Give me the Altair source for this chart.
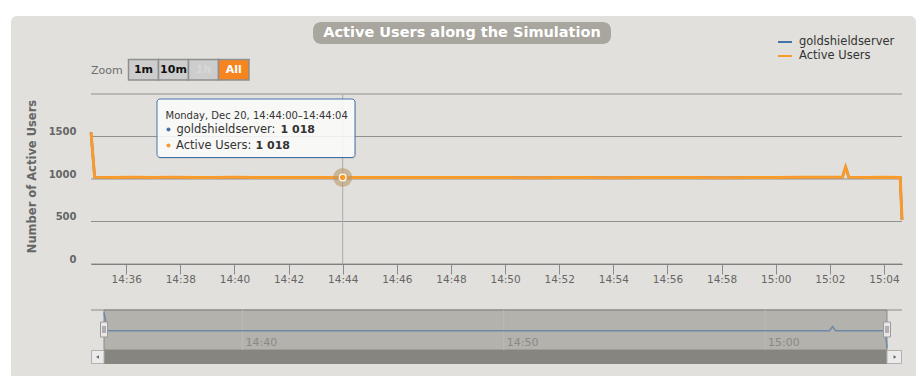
import altair as alt
import pandas as pd

# ---------------- data ----------------
DAY = "2010-12-20"
times = ["14:34:42", "14:34:50", "14:35:30", "14:36:15", "14:37:00", "14:37:45",
         "14:38:30", "14:39:15", "14:40:00", "14:40:45", "14:41:30", "14:42:15",
         "14:43:00", "14:44:00", "14:45:00", "14:46:00", "14:47:00", "14:48:00",
         "14:49:00", "14:50:00", "14:51:00", "14:52:00", "14:53:00", "14:54:00",
         "14:55:00", "14:56:00", "14:57:00", "14:58:00", "14:59:00", "15:00:00",
         "15:01:00", "15:02:00", "15:02:28", "15:02:35", "15:02:42", "15:03:20",
         "15:04:00", "15:04:36", "15:04:40"]
active_users = [1548, 1022, 1019, 1020, 1018, 1021,
                1019, 1018, 1020, 1018, 1019, 1017,
                1019, 1018, 1019, 1017, 1018, 1019,
                1017, 1018, 1016, 1018, 1017, 1016,
                1018, 1017, 1018, 1016, 1017, 1018,
                1020, 1021, 1022, 1140, 1022, 1019,
                1021, 1018, 520]
goldshieldserver = [1548, 1022, 1019, 1020, 1018, 1021,
                    1019, 1018, 1020, 1018, 1019, 1017,
                    1019, 1018, 1019, 1017, 1018, 1019,
                    1017, 1018, 1016, 1018, 1017, 1016,
                    1018, 1017, 1018, 1016, 1017, 1018,
                    1020, 1021, 1022, 1140, 1022, 1019,
                    1021, 1018, 520]

series_names = ["goldshieldserver", "Active Users"]
series_colors = ["#4572A7", "#F89A2C"]

y_grid = [0, 500, 1000, 1500, 2000]
y_labels = [0, 500, 1000, 1500]
x_ticks = ["14:36", "14:38", "14:40", "14:42", "14:44", "14:46", "14:48", "14:50",
           "14:52", "14:54", "14:56", "14:58", "15:00", "15:02", "15:04"]
nav_ticks = ["14:40", "14:50", "15:00"]

hover_time = "14:44:00"
hover_value = 1018
tooltip_header = "Monday, Dec 20, 14:44:00\u201314:44:04"

chart_title = "Active Users along the Simulation"
y_title = "Number of Active Users"
zoom_label = "Zoom"
zoom_buttons = ["1m", "10m", "1h", "All"]

# ---------------- helpers ----------------
FONT = "DejaVu Sans"
OX, OY = 91, 94          # page position of plot origin
W, H = 811, 170

def ts(t):
    return f"{DAY}T{t}"

dummy = pd.DataFrame({"d": [0]})

def box(x1, x2, y1, y2, **kw):
    return alt.Chart(dummy).mark_rect(**kw).encode(
        x=alt.value(x1 - OX), x2=alt.value(x2 - OX),
        y=alt.value(y1 - OY), y2=alt.value(y2 - OY))

def hline(x1, x2, y, **kw):
    return alt.Chart(dummy).mark_rule(**kw).encode(
        x=alt.value(x1 - OX), x2=alt.value(x2 - OX), y=alt.value(y - OY))

def vline(x, y1, y2, **kw):
    return alt.Chart(dummy).mark_rule(**kw).encode(
        x=alt.value(x - OX), y=alt.value(y1 - OY), y2=alt.value(y2 - OY))

def label(text, x, y, **kw):
    opts = dict(font=FONT, baseline="middle", align="left")
    opts.update(kw)
    return alt.Chart(dummy).mark_text(text=text, **opts).encode(
        x=alt.value(x - OX), y=alt.value(y - OY))

def dot(x, y, color, size=16):
    return alt.Chart(dummy).mark_point(filled=True, color=color, size=size, opacity=1).encode(
        x=alt.value(x - OX), y=alt.value(y - OY))

# ---------------- data frames ----------------
df_users = pd.DataFrame({"t": [ts(t) for t in times], "v": active_users,
                         "series": series_names[1]})
df_gold = pd.DataFrame({"t": [ts(t) for t in times], "v": goldshieldserver,
                        "series": series_names[0]})
df_grid = pd.DataFrame({"v": y_grid})
df_hover = pd.DataFrame({"t": [ts(hover_time)], "v": [hover_value]})
df_nav_ticks = pd.DataFrame({"t": [ts(t + ":00") for t in nav_ticks], "lab": nav_ticks})

tick_values = [alt.DateTime(year=2010, month=12, date=20,
                            hours=int(t[:2]), minutes=int(t[3:])) for t in x_ticks]

# ---------------- main plot ----------------
x_main = alt.X("t:T", scale=alt.Scale(nice=False),
               axis=alt.Axis(values=tick_values, format="%H:%M", title=None, grid=False,
                             labelFont=FONT, labelFontSize=10.5, labelColor="#666666",
                             tickColor="#8a8a8a", tickSize=10, domainColor="#808080",
                             labelPadding=5, labelBaseline="middle", zindex=1,
                             labelFlush=False, labelOverlap=False))
y_axis = alt.Axis(values=y_labels, format="d", title=y_title, grid=False, domain=False,
                  ticks=False, tickSize=0, labelPadding=15, labelBaseline="bottom",
                  labelFont=FONT, labelFontWeight="bold", labelFontSize=10,
                  labelColor="#666666", titleFont=FONT, titleFontSize=11.5,
                  titleFontWeight="bold", titleColor="#666666",
                  titleX=-59, titleY=82, titleAlign="center",
                  titleBaseline="middle", titleAngle=270, zindex=1)
y_scale = alt.Scale(domain=[0, 2000], nice=False)
y_main = alt.Y("v:Q", scale=y_scale, axis=y_axis)

color_enc = alt.Color("series:N",
                      scale=alt.Scale(domain=series_names, range=series_colors),
                      legend=alt.Legend(orient="none", legendX=686, legendY=-60, title=None,
                                        symbolType="stroke", symbolSize=196,
                                        symbolStrokeWidth=2, labelFont=FONT,
                                        labelFontSize=11.5, labelColor="#333333",
                                        rowPadding=0, labelOffset=6, padding=0))

grid = alt.Chart(df_grid).mark_rule(color="#909090", strokeWidth=1).encode(y=y_main)
crosshair = alt.Chart(df_hover).mark_rule(color="#ababab", strokeWidth=1).encode(
    x=x_main, y=alt.value(0), y2=alt.value(H))
gold_line = alt.Chart(df_gold).mark_line(strokeWidth=2.5).encode(
    x=x_main, y=y_main, color=color_enc)
users_line = alt.Chart(df_users).mark_line(strokeWidth=3).encode(
    x=x_main, y=y_main, color=color_enc)
halo = alt.Chart(df_hover).mark_point(filled=True, color="#b89a68", opacity=0.6, size=360).encode(
    x=x_main, y=y_main)
hover_pt = alt.Chart(df_hover).mark_point(filled=True, color=series_colors[1], opacity=1,
                                          size=45, stroke="white", strokeWidth=1.2).encode(
    x=x_main, y=y_main)

main = alt.layer(grid, crosshair, gold_line, users_line, halo, hover_pt)

# ---------------- navigator ----------------
x_nav = alt.X("t:T", scale=alt.Scale(nice=False, range=[13, 796]), axis=None)
nav_grid = alt.Chart(df_nav_ticks).mark_rule(color="#bcbbb5", strokeWidth=1).encode(
    x=x_nav, y=alt.value(310 - OY), y2=alt.value(350 - OY))
nav_line = alt.Chart(df_gold).mark_line(color="#6d88a8", strokeWidth=1.5).encode(
    x=x_nav,
    y=alt.Y("v:Q", scale=alt.Scale(zero=False, nice=False, range=[254, 218.5]), axis=None))
nav_text = alt.Chart(df_nav_ticks).mark_text(font=FONT, fontSize=11, color="#8a8a85",
                                             align="left", baseline="middle", dx=3).encode(
    x=x_nav, y=alt.value(343 - OY), text="lab:N")
nav = alt.layer(nav_grid, nav_line, nav_text)

# ---------------- decorations ----------------
layers = [
    box(11, 916, 16, 380, color="#e1e0dc", cornerRadius=6),
    box(313, 611, 22, 44, color="#a8a69e", cornerRadius=8),
    label(chart_title, 462, 33, align="center", fontSize=14.5, fontWeight="bold", color="white"),
    label(zoom_label, 91, 70.5, fontSize=11, color="#6e6e6e"),
]
btn_x = [128.5, 158.5, 188.5, 218.5, 249]
btn_fill = ["#cdcdcd", "#cdcdcd", "#cdcdcd", "#f6851f"]
btn_text = ["#111111", "#111111", "#d8d8d8", "#ffffff"]
for i, b in enumerate(zoom_buttons):
    layers.append(box(btn_x[i], btn_x[i + 1], 59.5, 80, color=btn_fill[i],
                      stroke="#8f8f8f", strokeWidth=1.5))
    layers.append(label(b, (btn_x[i] + btn_x[i + 1]) / 2, 70, align="center",
                        fontSize=11, fontWeight="bold", color=btn_text[i]))

layers.append(main)

# tooltip
layers += [
    box(158, 356, 100, 159, color="#000000", opacity=0.08, cornerRadius=3),
    box(157, 355, 99, 157.5, fill="#ffffff", fillOpacity=0.85, stroke="#4572A7",
        strokeWidth=1, cornerRadius=3),
    label(tooltip_header, 165.5, 115.5, fontSize=10, color="#333333"),
    dot(168.5, 129.5, series_colors[0]),
    label(series_names[0] + ": ", 176.5, 129.5, fontSize=11.5, color="#333333"),
    label(f"{hover_value:,}".replace(",", " "), 280.5, 129.5, fontSize=11,
          fontWeight="bold", color="#333333"),
    dot(168.5, 145.5, series_colors[1]),
    label(series_names[1] + ": ", 176, 145.5, fontSize=11.5, color="#333333"),
    label(f"{hover_value:,}".replace(",", " "), 255.5, 145.5, fontSize=11,
          fontWeight="bold", color="#333333"),
]

# navigator frame
layers += [
    box(104, 887, 310, 350, color="#b3b2ac", stroke="#8b8b87", strokeWidth=1),
    hline(91, 902, 310, color="#8b8b87", strokeWidth=1),
    nav,
    box(91, 902, 350, 364, color="#e6e5e1"),
    box(104, 887, 350, 364, color="#878580"),
    box(91.5, 104, 350.5, 363.5, color="#ebebeb", stroke="#b0b0b0", strokeWidth=1),
    box(887, 901.5, 350.5, 363.5, color="#ebebeb", stroke="#b0b0b0", strokeWidth=1),
    alt.Chart(dummy).mark_point(shape="triangle-left", filled=True, color="#666666",
                                size=12, opacity=1).encode(
        x=alt.value(97.5 - OX), y=alt.value(357 - OY)),
    alt.Chart(dummy).mark_point(shape="triangle-right", filled=True, color="#666666",
                                size=12, opacity=1).encode(
        x=alt.value(895 - OX), y=alt.value(357 - OY)),
    box(100.5, 107.5, 322, 337, color="#ebe7e8", stroke="#9a9a9a", strokeWidth=1),
    vline(103, 326, 333, color="#777777"),
    vline(105, 326, 333, color="#777777"),
    box(883.5, 890.5, 322, 337, color="#ebe7e8", stroke="#9a9a9a", strokeWidth=1),
    vline(886, 326, 333, color="#777777"),
    vline(888, 326, 333, color="#777777"),
]

chart = alt.layer(*layers).resolve_scale(
    x="independent", y="independent"
).properties(
    width=W, height=H,
    autosize=alt.AutoSizeParams(type="none"),
    padding={"left": 83, "top": 86, "right": 14, "bottom": 112},
    background="white",
).configure_view(stroke=None)

chart.save("out.html", embed_options={"renderer": "svg", "actions": False})
